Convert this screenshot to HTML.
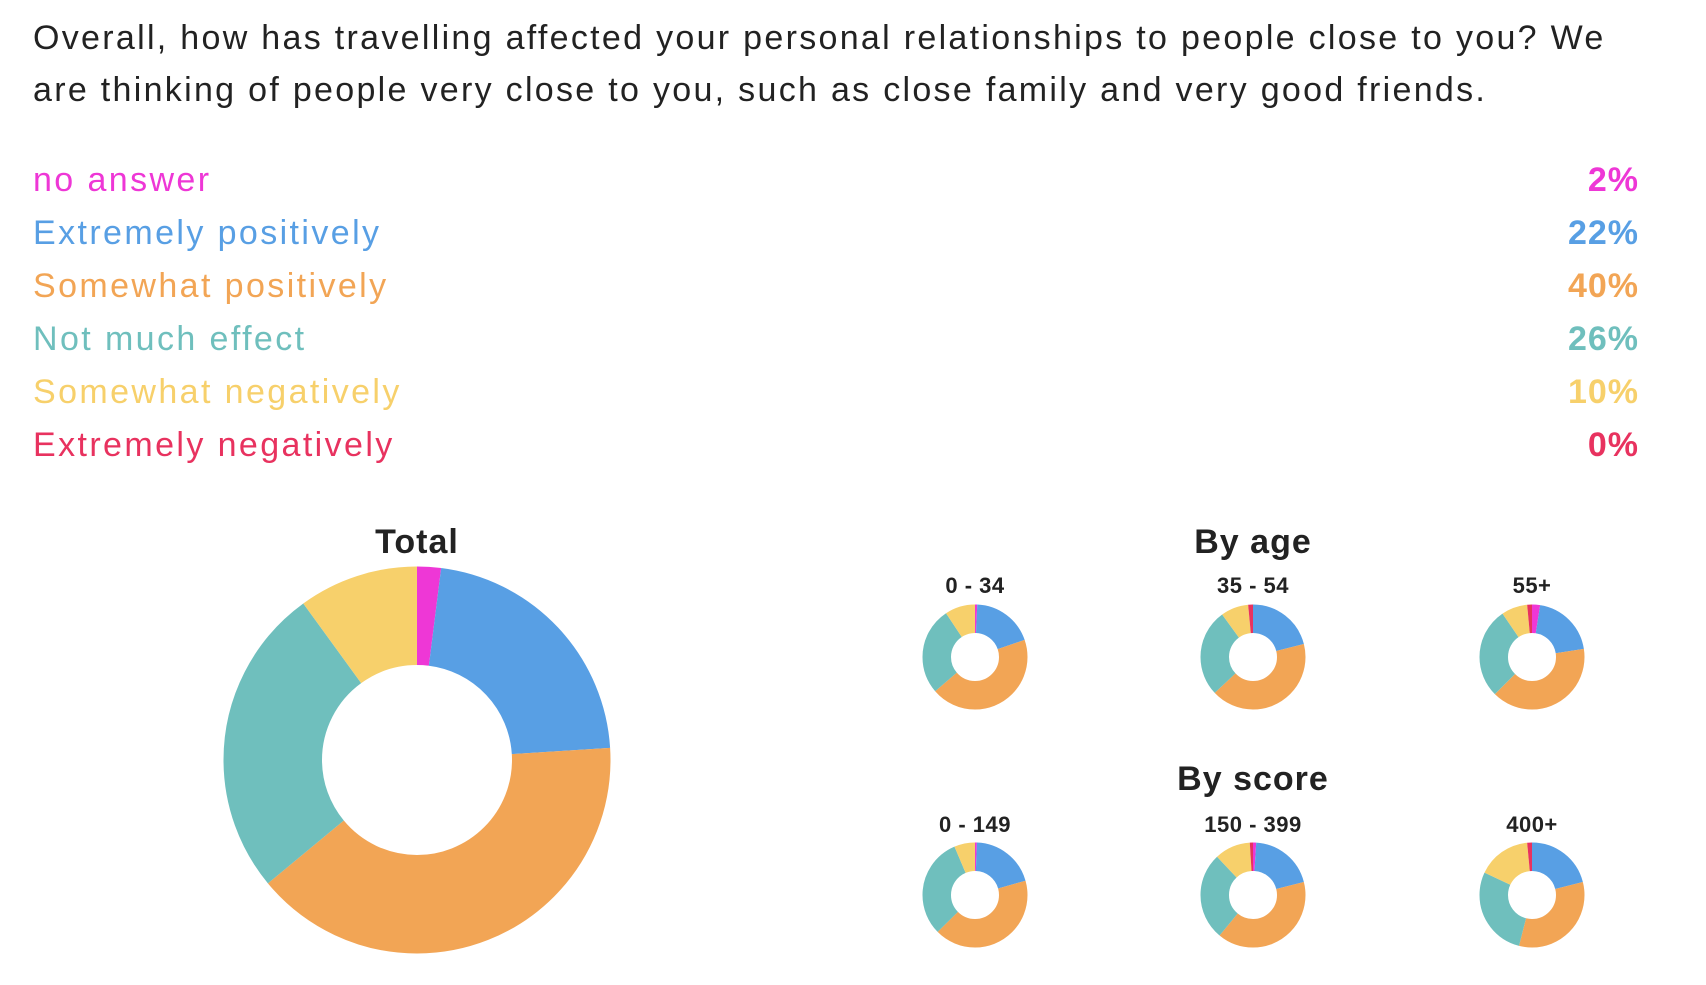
<!DOCTYPE html>
<html><head><meta charset="utf-8"><style>
body{margin:0;width:1706px;height:985px;background:#fff;position:relative;overflow:hidden;font-family:"Liberation Sans",sans-serif}
.t{position:absolute;white-space:nowrap}
.q{left:33px;font-size:34px;letter-spacing:2.3px;color:#222;line-height:52px}
.l{left:33px;font-size:34px;letter-spacing:2.4px;line-height:40px}
.v{right:67px;font-size:34px;font-weight:bold;letter-spacing:1px;line-height:40px;text-align:right}
.h{font-size:34px;font-weight:bold;color:#222;transform:translateX(-50%);line-height:40px;letter-spacing:1px}
.s{font-size:22px;font-weight:bold;color:#222;transform:translateX(-50%);line-height:30px;letter-spacing:0.5px}
</style></head><body>
<div class="t q" style="top:12px">Overall, how has travelling affected your personal relationships to people close to you? We</div>
<div class="t q" style="top:64px">are thinking of people very close to you, such as close family and very good friends.</div>
<div class="t l" style="top:160px;color:#ee37d6">no answer</div><div class="t v" style="top:160px;color:#ee37d6">2%</div>
<div class="t l" style="top:213px;color:#589fe4">Extremely positively</div><div class="t v" style="top:213px;color:#589fe4">22%</div>
<div class="t l" style="top:266px;color:#f2a555">Somewhat positively</div><div class="t v" style="top:266px;color:#f2a555">40%</div>
<div class="t l" style="top:319px;color:#6fbfbd">Not much effect</div><div class="t v" style="top:319px;color:#6fbfbd">26%</div>
<div class="t l" style="top:372px;color:#f7d06b">Somewhat negatively</div><div class="t v" style="top:372px;color:#f7d06b">10%</div>
<div class="t l" style="top:425px;color:#e8325f">Extremely negatively</div><div class="t v" style="top:425px;color:#e8325f">0%</div>
<div class="t h" style="left:417px;top:522px">Total</div>
<div class="t h" style="left:1253px;top:522px">By age</div>
<div class="t h" style="left:1253px;top:759px">By score</div>
<div class="t s" style="left:975px;top:571px">0 - 34</div>
<div class="t s" style="left:1253px;top:571px">35 - 54</div>
<div class="t s" style="left:1532px;top:571px">55+</div>
<div class="t s" style="left:975px;top:810px">0 - 149</div>
<div class="t s" style="left:1253px;top:810px">150 - 399</div>
<div class="t s" style="left:1532px;top:810px">400+</div>
<svg width="1706" height="985" style="position:absolute;left:0;top:0" fill="none">
<g transform="translate(417,760) rotate(-90)" stroke-width="98.5">
<circle r="144.25" pathLength="100" stroke="#ee37d6" stroke-dasharray="2 1000" stroke-dashoffset="0"/>
<circle r="144.25" pathLength="100" stroke="#589fe4" stroke-dasharray="22 1000" stroke-dashoffset="-2"/>
<circle r="144.25" pathLength="100" stroke="#f2a555" stroke-dasharray="40 1000" stroke-dashoffset="-24"/>
<circle r="144.25" pathLength="100" stroke="#6fbfbd" stroke-dasharray="26 1000" stroke-dashoffset="-64"/>
<circle r="144.25" pathLength="100" stroke="#f7d06b" stroke-dasharray="10 1000" stroke-dashoffset="-90"/>
</g>
<g transform="translate(975,657) rotate(-90)" stroke-width="28.5">
<circle r="38.25" pathLength="100" stroke="#ee37d6" stroke-dasharray="0.7 1000" stroke-dashoffset="0"/>
<circle r="38.25" pathLength="100" stroke="#589fe4" stroke-dasharray="19 1000" stroke-dashoffset="-0.7"/>
<circle r="38.25" pathLength="100" stroke="#f2a555" stroke-dasharray="44 1000" stroke-dashoffset="-19.7"/>
<circle r="38.25" pathLength="100" stroke="#6fbfbd" stroke-dasharray="27 1000" stroke-dashoffset="-63.7"/>
<circle r="38.25" pathLength="100" stroke="#f7d06b" stroke-dasharray="9.3 1000" stroke-dashoffset="-90.7"/>
</g>
<g transform="translate(1253,657) rotate(-90)" stroke-width="28.5">
<circle r="38.25" pathLength="100" stroke="#589fe4" stroke-dasharray="21 1000" stroke-dashoffset="0"/>
<circle r="38.25" pathLength="100" stroke="#f2a555" stroke-dasharray="42 1000" stroke-dashoffset="-21"/>
<circle r="38.25" pathLength="100" stroke="#6fbfbd" stroke-dasharray="27 1000" stroke-dashoffset="-63"/>
<circle r="38.25" pathLength="100" stroke="#f7d06b" stroke-dasharray="8.5 1000" stroke-dashoffset="-90"/>
<circle r="38.25" pathLength="100" stroke="#e8325f" stroke-dasharray="1.5 1000" stroke-dashoffset="-98.5"/>
</g>
<g transform="translate(1532,657) rotate(-90)" stroke-width="28.5">
<circle r="38.25" pathLength="100" stroke="#ee37d6" stroke-dasharray="2.5 1000" stroke-dashoffset="0"/>
<circle r="38.25" pathLength="100" stroke="#589fe4" stroke-dasharray="20 1000" stroke-dashoffset="-2.5"/>
<circle r="38.25" pathLength="100" stroke="#f2a555" stroke-dasharray="40 1000" stroke-dashoffset="-22.5"/>
<circle r="38.25" pathLength="100" stroke="#6fbfbd" stroke-dasharray="28 1000" stroke-dashoffset="-62.5"/>
<circle r="38.25" pathLength="100" stroke="#f7d06b" stroke-dasharray="8 1000" stroke-dashoffset="-90.5"/>
<circle r="38.25" pathLength="100" stroke="#e8325f" stroke-dasharray="1.5 1000" stroke-dashoffset="-98.5"/>
</g>
<g transform="translate(975,895) rotate(-90)" stroke-width="28.5">
<circle r="38.25" pathLength="100" stroke="#ee37d6" stroke-dasharray="0.6 1000" stroke-dashoffset="0"/>
<circle r="38.25" pathLength="100" stroke="#589fe4" stroke-dasharray="20 1000" stroke-dashoffset="-0.6"/>
<circle r="38.25" pathLength="100" stroke="#f2a555" stroke-dasharray="42 1000" stroke-dashoffset="-20.6"/>
<circle r="38.25" pathLength="100" stroke="#6fbfbd" stroke-dasharray="31 1000" stroke-dashoffset="-62.6"/>
<circle r="38.25" pathLength="100" stroke="#f7d06b" stroke-dasharray="6.4 1000" stroke-dashoffset="-93.6"/>
</g>
<g transform="translate(1253,895) rotate(-90)" stroke-width="28.5">
<circle r="38.25" pathLength="100" stroke="#ee37d6" stroke-dasharray="1 1000" stroke-dashoffset="0"/>
<circle r="38.25" pathLength="100" stroke="#589fe4" stroke-dasharray="20 1000" stroke-dashoffset="-1"/>
<circle r="38.25" pathLength="100" stroke="#f2a555" stroke-dasharray="40 1000" stroke-dashoffset="-21"/>
<circle r="38.25" pathLength="100" stroke="#6fbfbd" stroke-dasharray="27 1000" stroke-dashoffset="-61"/>
<circle r="38.25" pathLength="100" stroke="#f7d06b" stroke-dasharray="11 1000" stroke-dashoffset="-88"/>
<circle r="38.25" pathLength="100" stroke="#e8325f" stroke-dasharray="1 1000" stroke-dashoffset="-99"/>
</g>
<g transform="translate(1532,895) rotate(-90)" stroke-width="28.5">
<circle r="38.25" pathLength="100" stroke="#589fe4" stroke-dasharray="21 1000" stroke-dashoffset="0"/>
<circle r="38.25" pathLength="100" stroke="#f2a555" stroke-dasharray="33 1000" stroke-dashoffset="-21"/>
<circle r="38.25" pathLength="100" stroke="#6fbfbd" stroke-dasharray="28 1000" stroke-dashoffset="-54"/>
<circle r="38.25" pathLength="100" stroke="#f7d06b" stroke-dasharray="16.5 1000" stroke-dashoffset="-82"/>
<circle r="38.25" pathLength="100" stroke="#e8325f" stroke-dasharray="1.5 1000" stroke-dashoffset="-98.5"/>
</g>
</svg>
</body></html>
